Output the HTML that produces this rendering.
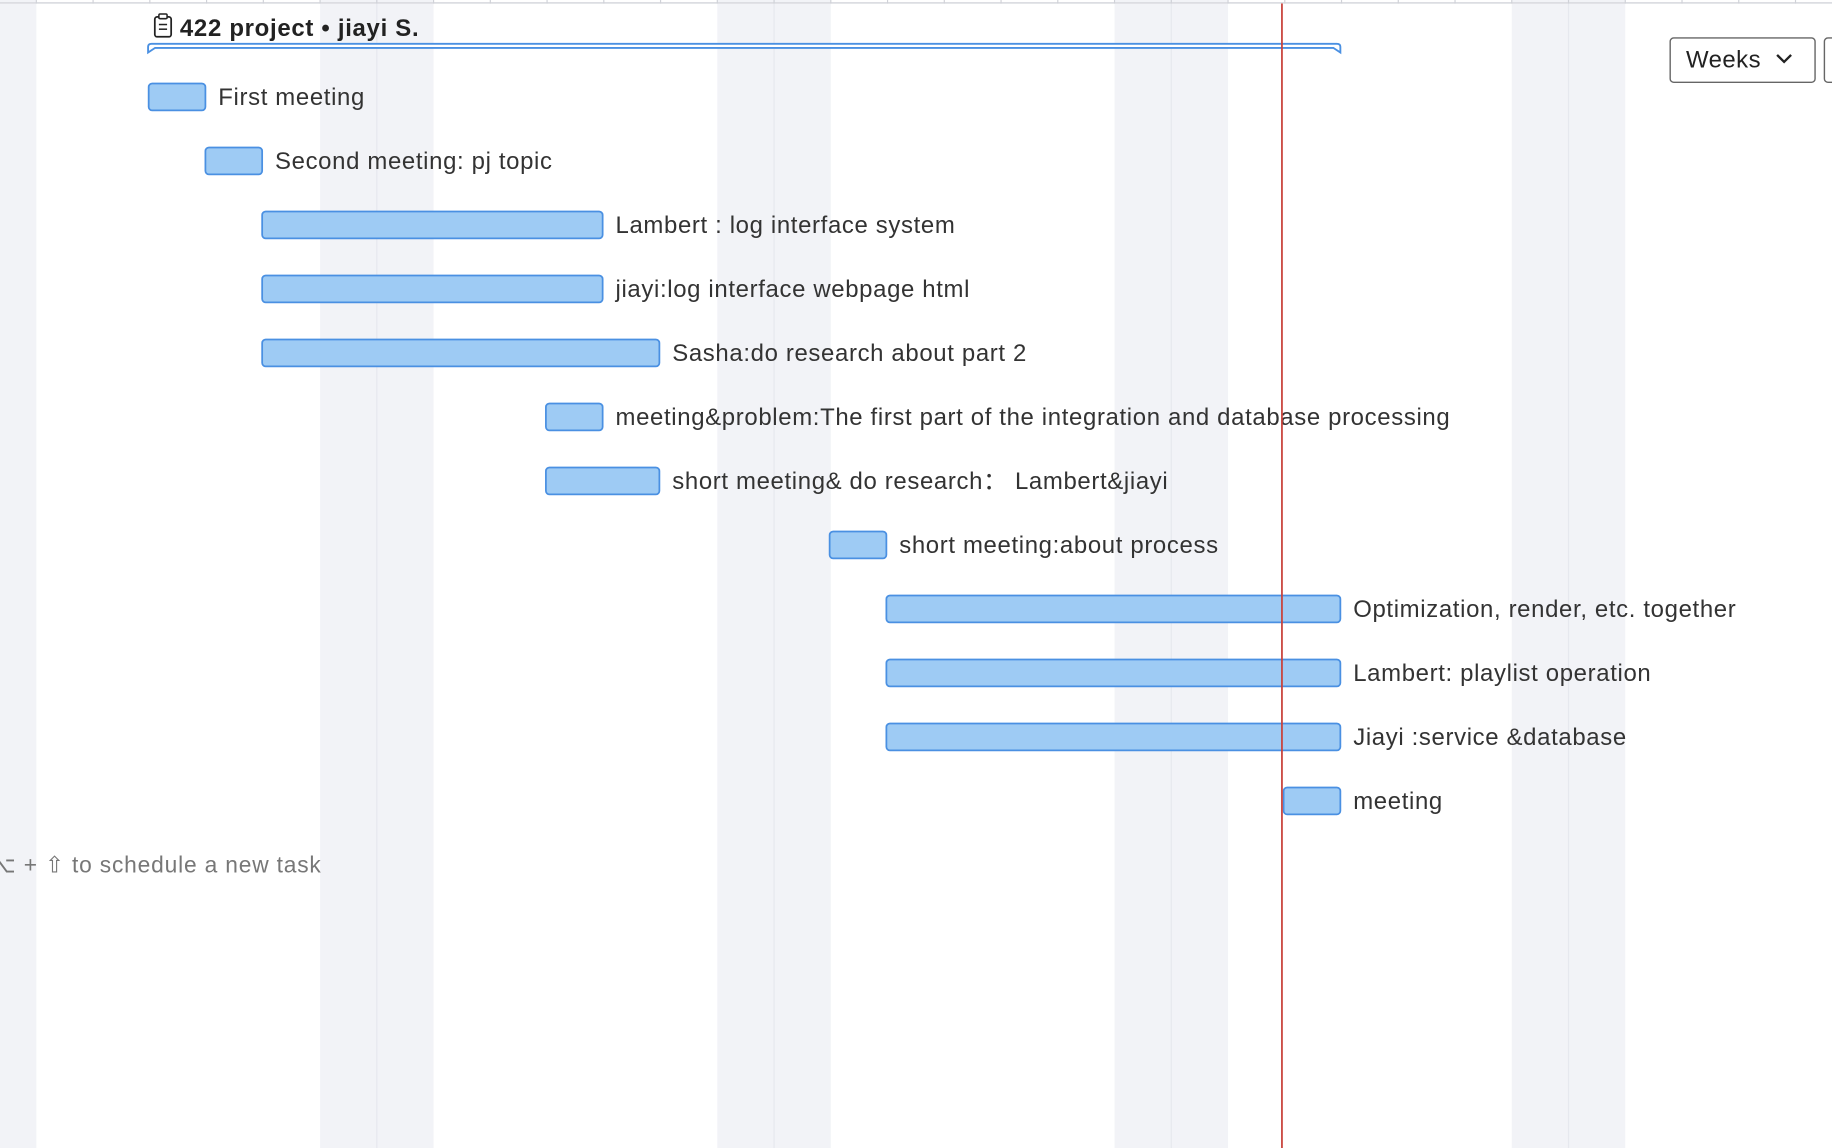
<!DOCTYPE html>
<html><head><meta charset="utf-8">
<style>
html,body{margin:0;padding:0;background:#fff;overflow:hidden;}
svg{display:block;font-family:"Liberation Sans","DejaVu Sans",sans-serif;}
</style></head>
<body>
<svg id="chart" width="1832" height="1148" viewBox="0 0 1568 983" preserveAspectRatio="none" xmlns="http://www.w3.org/2000/svg">
  <g id="bg"></g>
  <g id="hdr"></g>
  <g id="proj"></g>
  <g id="tasks"></g>
  <g id="today"></g>
  <g>
    <rect x="1429.5" y="32.5" width="124" height="38" rx="3" fill="#fff" stroke="#666" stroke-width="1.2"/>
    <text x="1443" y="58" font-size="20.5" letter-spacing="0.4" fill="#222">Weeks</text>
    <path d="M1521 47 L1527 53 L1533 47" fill="none" stroke="#222" stroke-width="2"/>
  </g>
  <rect x="1561.5" y="32.5" width="20" height="38" rx="3" fill="#fff" stroke="#666" stroke-width="1.2"/>
  <text x="-9" y="747" font-size="19.5" letter-spacing="0.7" fill="#777">⌥ + ⇧ to schedule a new task</text>
</svg>
<script>
const taskNames = ["First meeting","Second meeting: pj topic","Lambert : log interface system","jiayi:log interface webpage html","Sasha:do research about part 2","meeting&problem:The first part of the integration and database processing","short meeting& do research\uFF1A Lambert&jiayi","short meeting:about process","Optimization, render, etc. together","Lambert: playlist operation","Jiayi :service &database","meeting"];
const taskStart = [2,3,4,4,4,9,9,14,15,15,15,22];
const taskDuration = [1,1,6,6,7,1,2,1,8,8,8,1];
const projectTitle = "422 project \u2022 jiayi S.";
const todayDay = 21.95;
const weekendStartDays = [-2,5,12,19,26];

const NS="http://www.w3.org/2000/svg";
const DAY=48.57, X0=31.1, ROW0=83, ROWH=54.8;
const xs=d=>X0+d*DAY;
const ys=i=>ROW0+i*ROWH;
function mk(tag,attrs,parent){const e=document.createElementNS(NS,tag);for(const k in attrs)e.setAttribute(k,attrs[k]);parent.appendChild(e);return e;}

const bg=document.getElementById('bg');
weekendStartDays.forEach(d=>{
  const r=mk('rect',{x:xs(d),y:0,width:2*DAY,height:983,fill:'#f2f3f7'},bg);
  
  
  mk('line',{x1:xs(d+1),x2:xs(d+1),y1:0,y2:983,stroke:'#e6e8ee','stroke-width':1},bg);
});

const hdr=document.getElementById('hdr');
mk('line',{x1:0,x2:1568,y1:2.5,y2:2.5,stroke:'#dcdde2','stroke-width':1.5},hdr);
for(let d=-1;d<33;d++){mk('line',{x1:xs(d),x2:xs(d),y1:0,y2:3,stroke:'#d0d2d8','stroke-width':1},hdr);}

const proj=document.getElementById('proj');
const px1=xs(2)-1.5,px2=xs(23)-1;
const pb=mk('path',{d:`M${px1} 45 L${px1} 40 Q${px1} 37.5 ${px1+3} 37.5 L${px2-3} 37.5 Q${px2} 37.5 ${px2} 40 L${px2} 45 L${px2-6} 41 L${px1+6} 41 Z`,fill:'#fff',stroke:'#4a90e2','stroke-width':1.6},proj);


const ic=mk('g',{},proj);


mk('rect',{x:132.5,y:14.5,width:14,height:17,rx:2,fill:'none',stroke:'#222','stroke-width':1.5},ic);
mk('rect',{x:136,y:12,width:7,height:4,rx:1,fill:'#fff',stroke:'#222','stroke-width':1.3},ic);
mk('line',{x1:136,x2:143,y1:21,y2:21,stroke:'#222','stroke-width':1.3},ic);
mk('line',{x1:136,x2:143,y1:25,y2:25,stroke:'#222','stroke-width':1.3},ic);
const pt=mk('text',{x:154,y:31,'font-size':20.5,'letter-spacing':0.6,'font-weight':'bold',fill:'#222'},proj);
pt.textContent=projectTitle;



const tg=document.getElementById('tasks');
taskNames.forEach((n,i)=>{
  const x1=xs(taskStart[i]), x2=xs(taskStart[i]+taskDuration[i]), y=ys(i);
  const b=mk('rect',{x:x1-1,y:y-11.5,width:x2-x1,height:23,rx:3,fill:'#9ecbf4',stroke:'#4a90e2','stroke-width':1.5},tg);
  
  
  const t=mk('text',{x:x2+10,y:y+7,'font-size':20.5,'letter-spacing':0.55,fill:'#333'},tg);
  t.textContent=n;
  
  
});

const td=document.getElementById('today');
const tl=mk('line',{x1:xs(todayDay),x2:xs(todayDay),y1:3,y2:983,stroke:'#c9423a','stroke-width':1.5},td);


</script>
</body></html>
